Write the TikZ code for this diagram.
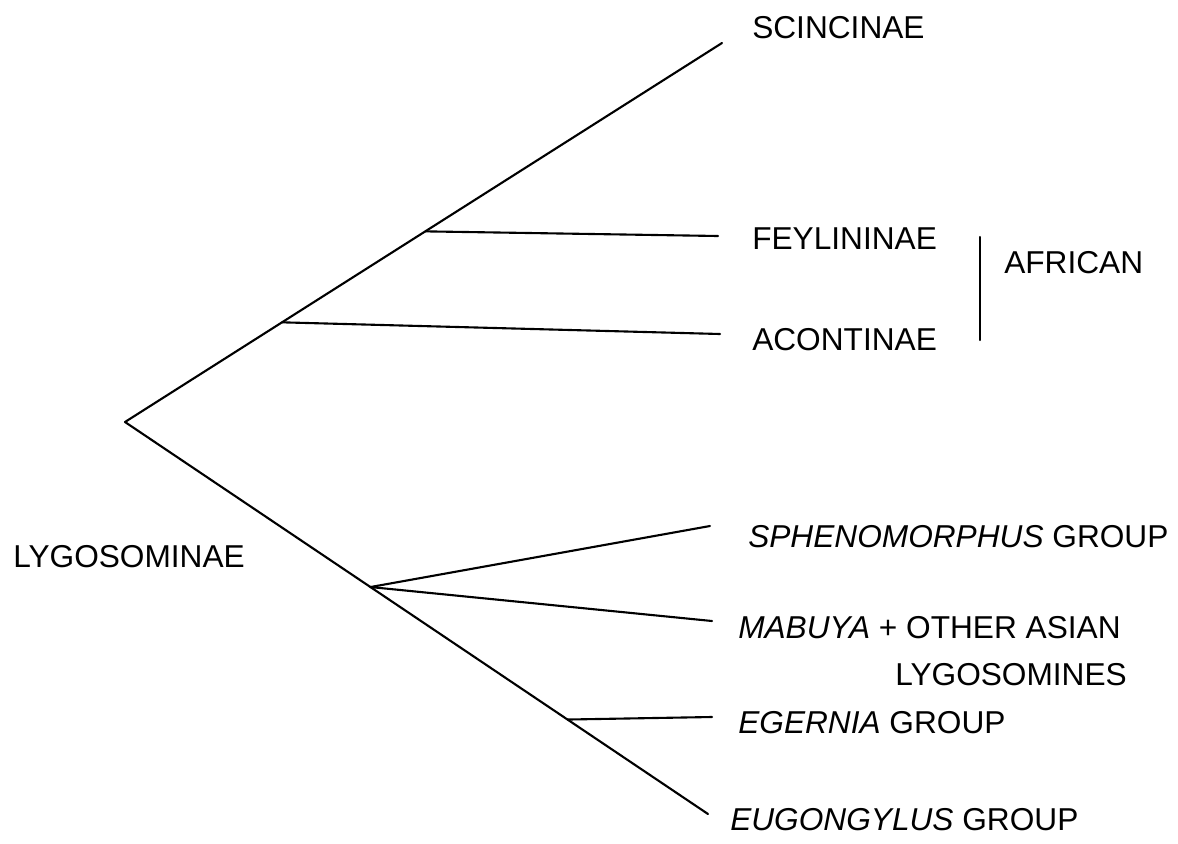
\documentclass[tikz,border=0pt]{standalone}
\usepackage{fontspec}
\setmainfont{Liberation Sans}
\usepackage{tikz}
\usetikzlibrary{positioning,calc}

\tikzset{
    branch/.style={line width=1.5pt, line cap=round},
    taxon/.style={anchor=west, inner sep=0pt, font=\fontsize{22.5}{27}\selectfont},
}

\begin{document}
\begin{tikzpicture}[x=0.025cm, y=-0.025cm]
    \useasboundingbox (0,0) rectangle (1178,843);

    % Root and tips
    \coordinate (root) at (125,422);
    \coordinate (tipSci) at (722,43);
    \coordinate (tipFey) at (718,236);
    \coordinate (tipAco) at (720,334);
    \coordinate (tipSph) at (710,526);
    \coordinate (tipMab) at (712,621);
    \coordinate (tipEge) at (712,717);
    \coordinate (tipEug) at (708,814);

    % Internal nodes on the two main lines
    \coordinate (nodeAco) at ($(root)!0.263!(tipSci)$);
    \coordinate (nodeFey) at ($(root)!0.503!(tipSci)$);
    \coordinate (nodeLyg) at ($(root)!0.421!(tipEug)$);
    \coordinate (nodeEge) at ($(root)!0.759!(tipEug)$);

    % Branches
    \draw[branch] (root) -- (tipSci);
    \draw[branch] (root) -- (tipEug);
    \draw[branch] (nodeFey) -- (tipFey);
    \draw[branch] (nodeAco) -- (tipAco);
    \draw[branch] (nodeLyg) -- (tipSph);
    \draw[branch] (nodeLyg) -- (tipMab);
    \draw[branch] (nodeEge) -- (tipEge);

    % Taxon labels
    \node[taxon] (sci) at (752,28) {SCINCINAE};
    \node[taxon] (fey) at (752,239) {FEYLININAE};
    \node[taxon] (aco) at (752,340) {ACONTINAE};
    \node[taxon] (lyg) at (13,557) {LYGOSOMINAE};
    \node[taxon] (sph) at (748,537) {\textit{SPHENOMORPHUS} GROUP};
    \node[taxon] (mab) at (738,628) {\textit{MABUYA} + OTHER ASIAN};
    \node[taxon] (mabNext) at (895,675) {LYGOSOMINES};
    \node[taxon] (ege) at (738,723) {\textit{EGERNIA} GROUP};
    \node[taxon] (eug) at (730,820) {\textit{EUGONGYLUS} GROUP};

    % African bracket
    \coordinate (afrTop) at (980,237);
    \coordinate (afrBot) at (980,340);
    \draw[branch] (afrTop) -- (afrBot);
    \node[taxon] (afr) at (1004,263) {AFRICAN};
\end{tikzpicture}
\end{document}
